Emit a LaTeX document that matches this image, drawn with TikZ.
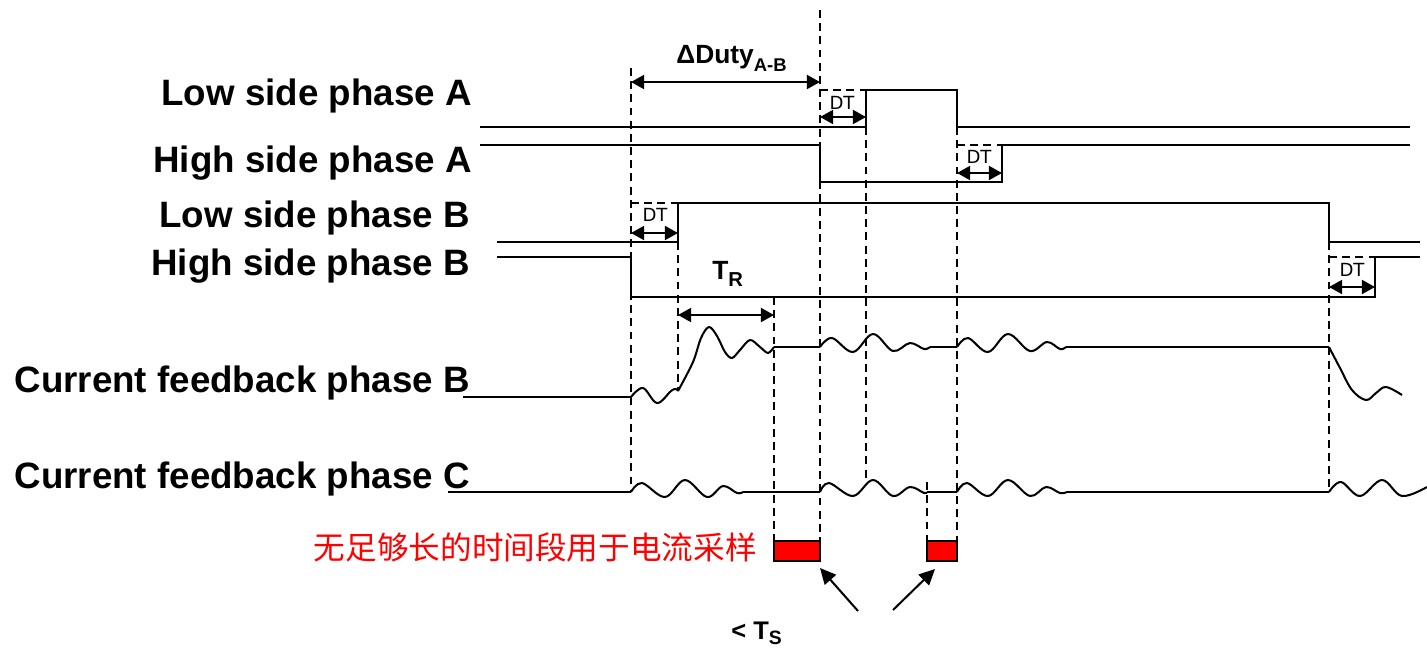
\documentclass[tikz,border=0pt]{standalone}
\usepackage{fontspec}
\setmainfont{Liberation Sans}
\newfontfamily\dtfont{DejaVu Sans}
\newfontfamily\cjkfont{Noto Sans CJK SC}
\usetikzlibrary{arrows.meta}
\tikzset{
  sig/.style={line width=1.15pt, line join=miter},
  wave/.style={line width=1.15pt, line join=round},
  dsh/.style={line width=1.1pt, dash pattern=on 4.5pt off 3pt},
  dimarrow/.style={line width=1.15pt, {Triangle[length=7.5pt,width=8pt]}-{Triangle[length=7.5pt,width=8pt]}},
  ptr/.style={line width=1.15pt, -{Triangle[length=9pt,width=8.5pt]}},
  lbl/.style={anchor=base east, inner sep=0, font=\bfseries\fontsize{20.9}{25}\selectfont},
  dtlbl/.style={inner sep=0, font=\dtfont\fontsize{10.3}{12}\selectfont},
  redbox/.style={draw=black, fill=red, line width=1.15pt}
}
\begin{document}
\begin{tikzpicture}[x=0.02cm, y=-0.02cm]
\useasboundingbox (0,0) rectangle (1427,647);

% labels
\node[lbl] (lLA) at (472,105) {Low side phase A};
\node[lbl] (lHA) at (472,172) {High side phase A};
\node[lbl] (lLB) at (470,227) {Low side phase B};
\node[lbl] (lHB) at (470,275) {High side phase B};
\node[lbl] (lCB) at (470,392) {Current feedback phase B};
\node[lbl] (lCC) at (470,488) {Current feedback phase C};

% gate signals
\draw[sig] (480,127) -- (866,127) -- (866,90) -- (957,90) -- (957,127) -- (1410,127);
\draw[sig] (480,145) -- (820,145) -- (820,182) -- (1002,182) -- (1002,145) -- (1410,145);
\draw[sig] (497,242) -- (678,242) -- (678,203) -- (1329,203) -- (1329,242) -- (1420,242);
\draw[sig] (497,257) -- (631,257) -- (631,297) -- (1375,297) -- (1375,257) -- (1420,257);

% dashed verticals
\draw[dsh] (631,68) -- (631,490);
\draw[dsh] (820,10) -- (820,541);
\draw[dsh] (866,127) -- (866,478);
\draw[dsh] (957,127) -- (957,541);
\draw[dsh] (678,242) -- (678,390);
\draw[dsh] (774,297) -- (774,541);
\draw[dsh] (927,482) -- (927,541);
\draw[dsh] (1329,242) -- (1329,490);
% DT box tops
\draw[dsh] (820,90) -- (866,90);
\draw[dsh] (957,145) -- (1002,145);
\draw[dsh] (631,203) -- (678,203);
\draw[dsh] (1329,257) -- (1375,257);

% dimension arrows
\draw[dimarrow] (631,82) -- (820,82);
\draw[dimarrow] (820,117) -- (866,117);
\draw[dimarrow] (957,173) -- (1002,173);
\draw[dimarrow] (631,233) -- (678,233);
\draw[dimarrow] (1329,287) -- (1375,287);
\draw[dimarrow] (678,315) -- (774,315);

\node[dtlbl] (dt1) at (842,103) {DT};
\node[dtlbl] (dt2) at (979,157) {DT};
\node[dtlbl] (dt3) at (655,215) {DT};
\node[dtlbl] (dt4) at (1352,270) {DT};

\node[anchor=base west, inner sep=0, font=\bfseries\fontsize{15}{18}\selectfont] (duty) at (676,63)
  {ΔDuty\raisebox{-5pt}{\fontsize{10.5}{12}\selectfont A-B}};
\node[anchor=base west, inner sep=0, font=\bfseries\fontsize{15}{18}\selectfont] (tr) at (712,279)
  {T\raisebox{-4.5pt}{\fontsize{11.5}{13}\selectfont R}};
\node[anchor=base west, inner sep=0, font=\bfseries\fontsize{14.5}{17}\selectfont] (ts) at (731,639)
  {< T\raisebox{-3pt}{\fontsize{11}{13}\selectfont S}};

% current feedback phase B
\draw[wave] (463,397) -- (631,397);
\draw[wave] plot[smooth, tension=0.6] coordinates {(631,397) (643,388) (657,403) (671,391) (676,389) (678,391)};
\draw[wave] plot[smooth, tension=0.55] coordinates {(678,391) (693,362) (701,338) (709,327) (717,336) (725,352) (732,358) (740,350) (750,340) (760,347) (768,353) (774,347)};
\draw[wave] (774,347) -- (820,347);
\draw[wave] plot[smooth, tension=0.6] coordinates {(820,347) (832,338) (853,352) (873,334) (893,351) (910,343) (924,349) (930,347)};
\draw[wave] (930,347) -- (957,347);
\draw[wave] plot[smooth, tension=0.6] coordinates {(957,347) (968,338) (988,352) (1008,334) (1030,351) (1047,342) (1060,349) (1066,347)};
\draw[wave] (1066,347) -- (1329,347);
\draw[wave] plot[smooth, tension=0.6] coordinates {(1329,347) (1340,368) (1352,390) (1366,400) (1376,393) (1386,387) (1402,395)};

% current feedback phase C
\draw[wave] (448,492) -- (631,492);
\draw[wave] plot[smooth, tension=0.6] coordinates {(631,492) (642,483) (665,497) (685,480) (707,497) (723,486) (737,493) (743,492)};
\draw[wave] (743,492) -- (820,492);
\draw[wave] plot[smooth, tension=0.6] coordinates {(820,492) (829,483) (853,496) (873,480) (893,496) (910,487) (924,493) (927,492)};
\draw[wave] (927,492) -- (957,492);
\draw[wave] plot[smooth, tension=0.6] coordinates {(957,492) (967,483) (988,496) (1008,480) (1030,496) (1046,487) (1060,493) (1067,492)};
\draw[wave] (1067,492) -- (1329,492);
\draw[wave] plot[smooth, tension=0.6] coordinates {(1329,492) (1341,482) (1360,496) (1382,480) (1402,496) (1427,487)};

% sampling windows
\draw[redbox] (774,541) rectangle (820,561);
\draw[redbox] (927,541) rectangle (957,561);
\coordinate (s1) at (820,568);
\coordinate (s2) at (935,569);
\coordinate (a1) at (858,611);
\coordinate (a2) at (893,610);
\draw[ptr] (a1) -- (s1);
\draw[ptr] (a2) -- (s2);

\node[anchor=base east, inner sep=0, text=red, font=\cjkfont\fontsize{18}{21}\selectfont] (cn) at (757,559) {无足够长的时间段用于电流采样};
\end{tikzpicture}
\end{document}
